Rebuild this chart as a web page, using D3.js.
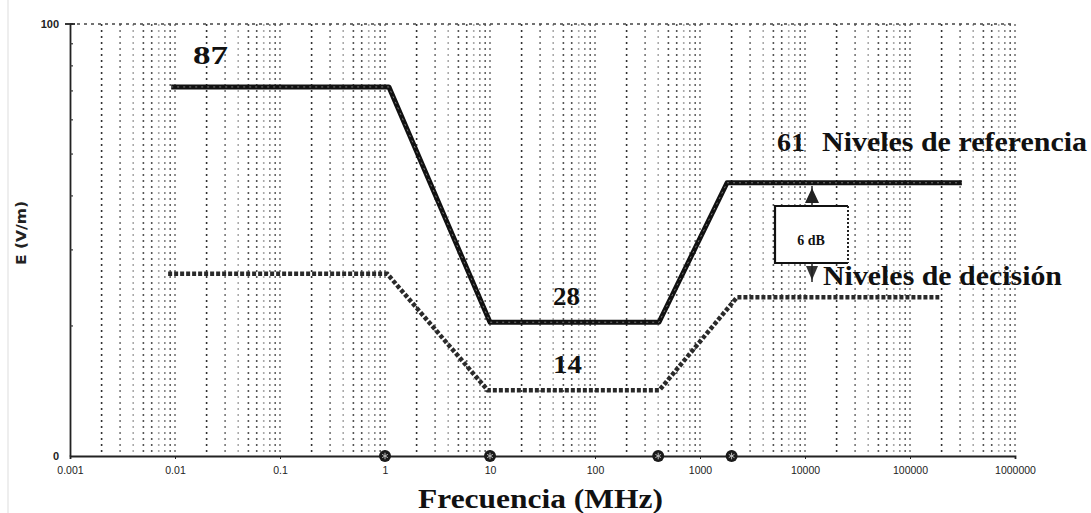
<!DOCTYPE html>
<html><head><meta charset="utf-8">
<script src="https://cdn.jsdelivr.net/npm/d3@7"></script>
<style>body{margin:0;background:#fff}svg{display:block}</style>
</head><body>
<svg id="c" width="1091" height="513"></svg>
<script>
// ---- data ----
const xTickValues = [0.001,0.01,0.1,1,10,100,1000,10000,100000,1000000];
const xTickLabels = ["0.001","0.01","0.1","1","10","100","1000","10000","100000","1000000"];
const yTickValues = [10,100];
const yTickLabels = ["0","100"];
const yMinorTicks = [20,30,40,50,60,70,80,90];
// Niveles de referencia (solid)
const refFreq  = [0.0092, 1.09, 10, 407, 1810, 312000];
const refLevel = [71.5, 71.5, 20.4, 20.4, 42.9, 42.9];
// Niveles de decisión (dotted)
const decFreq  = [0.0086, 1.05, 9.5, 410, 2250, 190000];
const decLevel = [26.4, 26.4, 14.2, 14.2, 23.3, 23.3];
// marked frequencies on the axis
const markFreq = [1, 10, 400, 2000];

// ---- chart ----
const svg = d3.select("#c");
const x = d3.scaleLog().domain([0.001, 1000000]).range([70, 1015]);
const y = d3.scaleLog().domain([10, 100]).range([456, 24]);

// faint left border
svg.append("line").attr("x1",8).attr("x2",8).attr("y1",0).attr("y2",513)
  .attr("stroke","#ddd").attr("stroke-width",1);

// vertical grid
const gridVals = [];
for (let d = -3; d <= 5; d++) for (let k = 1; k <= 9; k++) gridVals.push({v:k*Math.pow(10,d), k});
gridVals.push({v:1e6, k:1});
const shade = {1:"#777",2:"#333",3:"#777",4:"#aaa",5:"#555",6:"#555",7:"#aaa",8:"#888",9:"#666"};
svg.append("g").selectAll("line").data(gridVals.filter(g=>g.v>0.001)).join("line")
  .attr("x1",g=>x(g.v)).attr("x2",g=>x(g.v)).attr("y1",y(100)).attr("y2",y(10))
  .attr("stroke",g=>shade[g.k]).attr("stroke-width",1.6).attr("stroke-dasharray","2,4");

// top dotted line
svg.append("line").attr("x1",x(0.001)).attr("x2",x(1000000)).attr("y1",y(100)).attr("y2",y(100))
  .attr("stroke","#444").attr("stroke-width",1.6).attr("stroke-dasharray","3,4");

// axes
const xAxis = d3.axisBottom(x).tickValues(xTickValues)
  .tickFormat((d,i)=>xTickLabels[i]).tickSize(3).tickPadding(8);
const gx = svg.append("g").attr("transform",`translate(0,${y(10)})`).call(xAxis);
gx.select(".domain").attr("stroke","#222").attr("stroke-width",1.8);
gx.selectAll(".tick line").attr("stroke","#222");
gx.selectAll("text").attr("font-family","Liberation Sans, Arial, sans-serif").attr("font-size",10.5).attr("fill","#222");

const yAxis = d3.axisLeft(y).tickValues(yTickValues)
  .tickFormat((d,i)=>yTickLabels[i]).tickSize(0).tickPadding(11);
const gy = svg.append("g").attr("transform",`translate(${x(0.001)},0)`).call(yAxis);
gy.select(".domain").attr("stroke","#222").attr("stroke-width",1.8);
gy.selectAll("text").attr("font-family","Liberation Sans, Arial, sans-serif").attr("font-size",11).attr("font-weight","bold").attr("fill","#222");
// minor y ticks (inside)
svg.append("g").selectAll("line").data(yMinorTicks).join("line")
  .attr("x1",x(0.001)).attr("x2",x(0.001)+3).attr("y1",d=>y(d)).attr("y2",d=>y(d))
  .attr("stroke","#333").attr("stroke-width",1.2);
// top T
svg.append("line").attr("x1",x(0.001)-5).attr("x2",x(0.001)+5).attr("y1",y(100)).attr("y2",y(100))
  .attr("stroke","#222").attr("stroke-width",1.8);

// lines
const line = d3.line().x(d=>x(d[0])).y(d=>y(d[1]));
svg.append("path").datum(decFreq.map((f,i)=>[f,decLevel[i]])).attr("d",line)
  .attr("fill","none").attr("stroke","#2a2a2a").attr("stroke-width",4.5)
  .attr("stroke-dasharray","4,2");
svg.append("path").datum(refFreq.map((f,i)=>[f,refLevel[i]])).attr("d",line)
  .attr("fill","none").attr("stroke","#111").attr("stroke-width",5).attr("stroke-linejoin","round");
svg.append("path").datum(refFreq.map((f,i)=>[f,refLevel[i]])).attr("d",line)
  .attr("fill","none").attr("stroke","#777").attr("stroke-width",1).attr("stroke-dasharray","2,4");

// axis markers
const mk = svg.append("g").selectAll("g").data(markFreq).join("g")
  .attr("transform",d=>`translate(${x(d)},${y(10)})`);
mk.append("circle").attr("r",6).attr("fill","#1a1a1a");
mk.append("path").attr("d",d3.symbol(d3.symbolAsterisk,30)()).attr("stroke","#bbb").attr("stroke-width",1).attr("fill","none");

// 6 dB box
const bx0 = 775, bx1 = 848, by0 = 206, by1 = 263;
svg.append("rect").attr("x",bx0).attr("y",by0).attr("width",bx1-bx0).attr("height",by1-by0)
  .attr("fill","#fff").attr("stroke","none");
svg.append("path").attr("d",`M${bx1},${by0}H${bx0}V${by1}H${bx1}`)
  .attr("fill","none").attr("stroke","#111").attr("stroke-width",2.2);
svg.append("line").attr("x1",bx1).attr("x2",bx1).attr("y1",by0).attr("y2",by1)
  .attr("stroke","#222").attr("stroke-width",2).attr("stroke-dasharray","2,2");
svg.append("text").attr("x",811).attr("y",245).attr("text-anchor","middle")
  .attr("font-family","Liberation Serif, Times New Roman, serif").attr("font-weight","bold")
  .attr("font-size",14).attr("fill","#111").text("6 dB");
// arrows
svg.append("path").attr("d",`M812,188 L805,203 L819,203 Z`).attr("fill","#222");
svg.append("line").attr("x1",812).attr("x2",812).attr("y1",186).attr("y2",206).attr("stroke","#222").attr("stroke-width",1.5);
svg.append("path").attr("d",`M812,280 L806,266 L818,266 Z`).attr("fill","#333");
svg.append("line").attr("x1",812).attr("x2",812).attr("y1",263).attr("y2",282).attr("stroke","#222").attr("stroke-width",1.5);

// annotations
const serif = "Liberation Serif, Times New Roman, serif";
function lab(t, px, py, fs, tl){
  const e = svg.append("text").attr("x",px).attr("y",py).attr("font-family",serif)
    .attr("font-weight","bold").attr("font-size",fs).attr("fill","#111").text(t);
  if (tl) e.attr("textLength",tl).attr("lengthAdjust","spacingAndGlyphs");
  return e;
}
lab("87",193,64,25,35);
lab("61",777,151,25,28);
lab("28",553,305,25,27);
lab("14",553,373,25,29);
lab("Niveles de referencia",822,151,27,265);
lab("Niveles de decisión",823,285,27,239);
lab("Frecuencia  (MHz)",418,508,27,245);

svg.append("text").attr("transform","translate(26,233) rotate(-90)").attr("text-anchor","middle")
  .attr("font-family","DejaVu Sans, Arial, sans-serif").attr("font-weight","bold").attr("font-size",14)
  .attr("textLength",64).attr("lengthAdjust","spacingAndGlyphs")
  .attr("fill","#222").text("E (V/m)");
</script>
</body></html>
